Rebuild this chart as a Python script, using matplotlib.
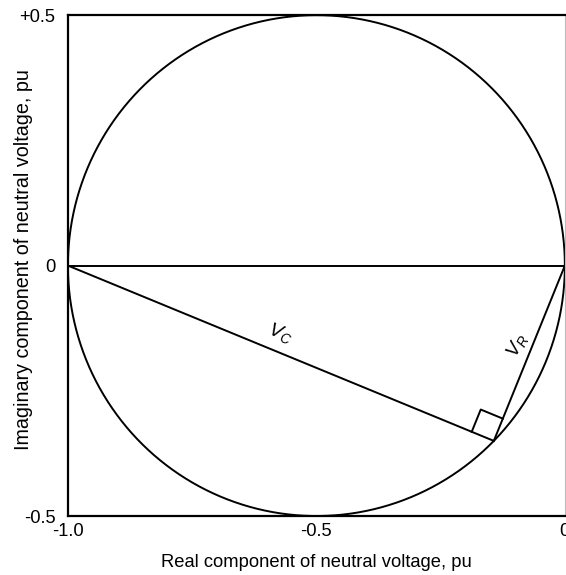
import numpy as np
import matplotlib
matplotlib.use('Agg')
import matplotlib.pyplot as plt

plt.rcParams['font.family'] = ['Liberation Sans', 'DejaVu Sans']
plt.rcParams['mathtext.fontset'] = 'custom'
plt.rcParams['mathtext.it'] = 'Liberation Sans:italic'
plt.rcParams['mathtext.rm'] = 'Liberation Sans'

# circle locus of neutral voltage
center = (-0.5, 0.0)
radius = 0.5

# operating point where V_C and V_R meet
p_x = -0.143
p_y = -0.350

# axis ticks
x_ticks = [-1.0, -0.5, 0.0]
x_tick_labels = ['-1.0', '-0.5', '0']
y_ticks = [-0.5, 0.0, 0.5]
y_tick_labels = ['-0.5', '0', '+0.5']

fig = plt.figure(figsize=(5.66, 5.75), dpi=100)
ax = fig.add_axes([0.120, 0.1026, 0.878, 0.871])

t = np.linspace(0, 2 * np.pi, 400)
ax.plot(center[0] + radius * np.cos(t), center[1] + radius * np.sin(t),
        color='black', lw=1.4)

# diameter along real axis
ax.plot([-1.0, 0.0], [0.0, 0.0], color='black', lw=1.4)
# V_C and V_R phasors
ax.plot([-1.0, p_x], [0.0, p_y], color='black', lw=1.4)
ax.plot([p_x, 0.0], [p_y, 0.0], color='black', lw=1.4)

# right angle marker
s = 0.048
u1 = np.array([-1.0 - p_x, 0.0 - p_y])
u1 = u1 / np.linalg.norm(u1)
u2 = np.array([0.0 - p_x, 0.0 - p_y])
u2 = u2 / np.linalg.norm(u2)
p = np.array([p_x, p_y])
a = p + s * u1
b = p + s * u1 + s * u2
c = p + s * u2
ax.plot([a[0], b[0], c[0]], [a[1], b[1], c[1]], color='black', lw=1.4)

ax.text(-0.573, -0.135, r'$V_C$', fontsize=14, rotation=-21,
        ha='center', va='center')
ax.text(-0.095, -0.159, r'$V_R$', fontsize=14, rotation=61,
        ha='center', va='center')

ax.set_xlim(-1.0, 0.0)
ax.set_ylim(-0.5, 0.5)
ax.set_xticks(x_ticks)
ax.set_xticklabels(x_tick_labels)
ax.set_yticks(y_ticks)
ax.set_yticklabels(y_tick_labels)
ax.tick_params(length=0, labelsize=13.2)
ax.tick_params(axis='x', pad=5)
ax.tick_params(axis='y', pad=9)
for sp in ax.spines.values():
    sp.set_linewidth(1.6)
ax.spines['right'].set_color('#bbbbbb')
ax.spines['right'].set_linewidth(0.8)

ax.set_xlabel('Real component of neutral voltage, pu', fontsize=13.2, labelpad=10)
ax.set_ylabel('Imaginary component of neutral voltage, pu', fontsize=14.2)
ax.yaxis.set_label_coords(-0.070, 0.513)

fig.savefig('out.png', dpi=100)
